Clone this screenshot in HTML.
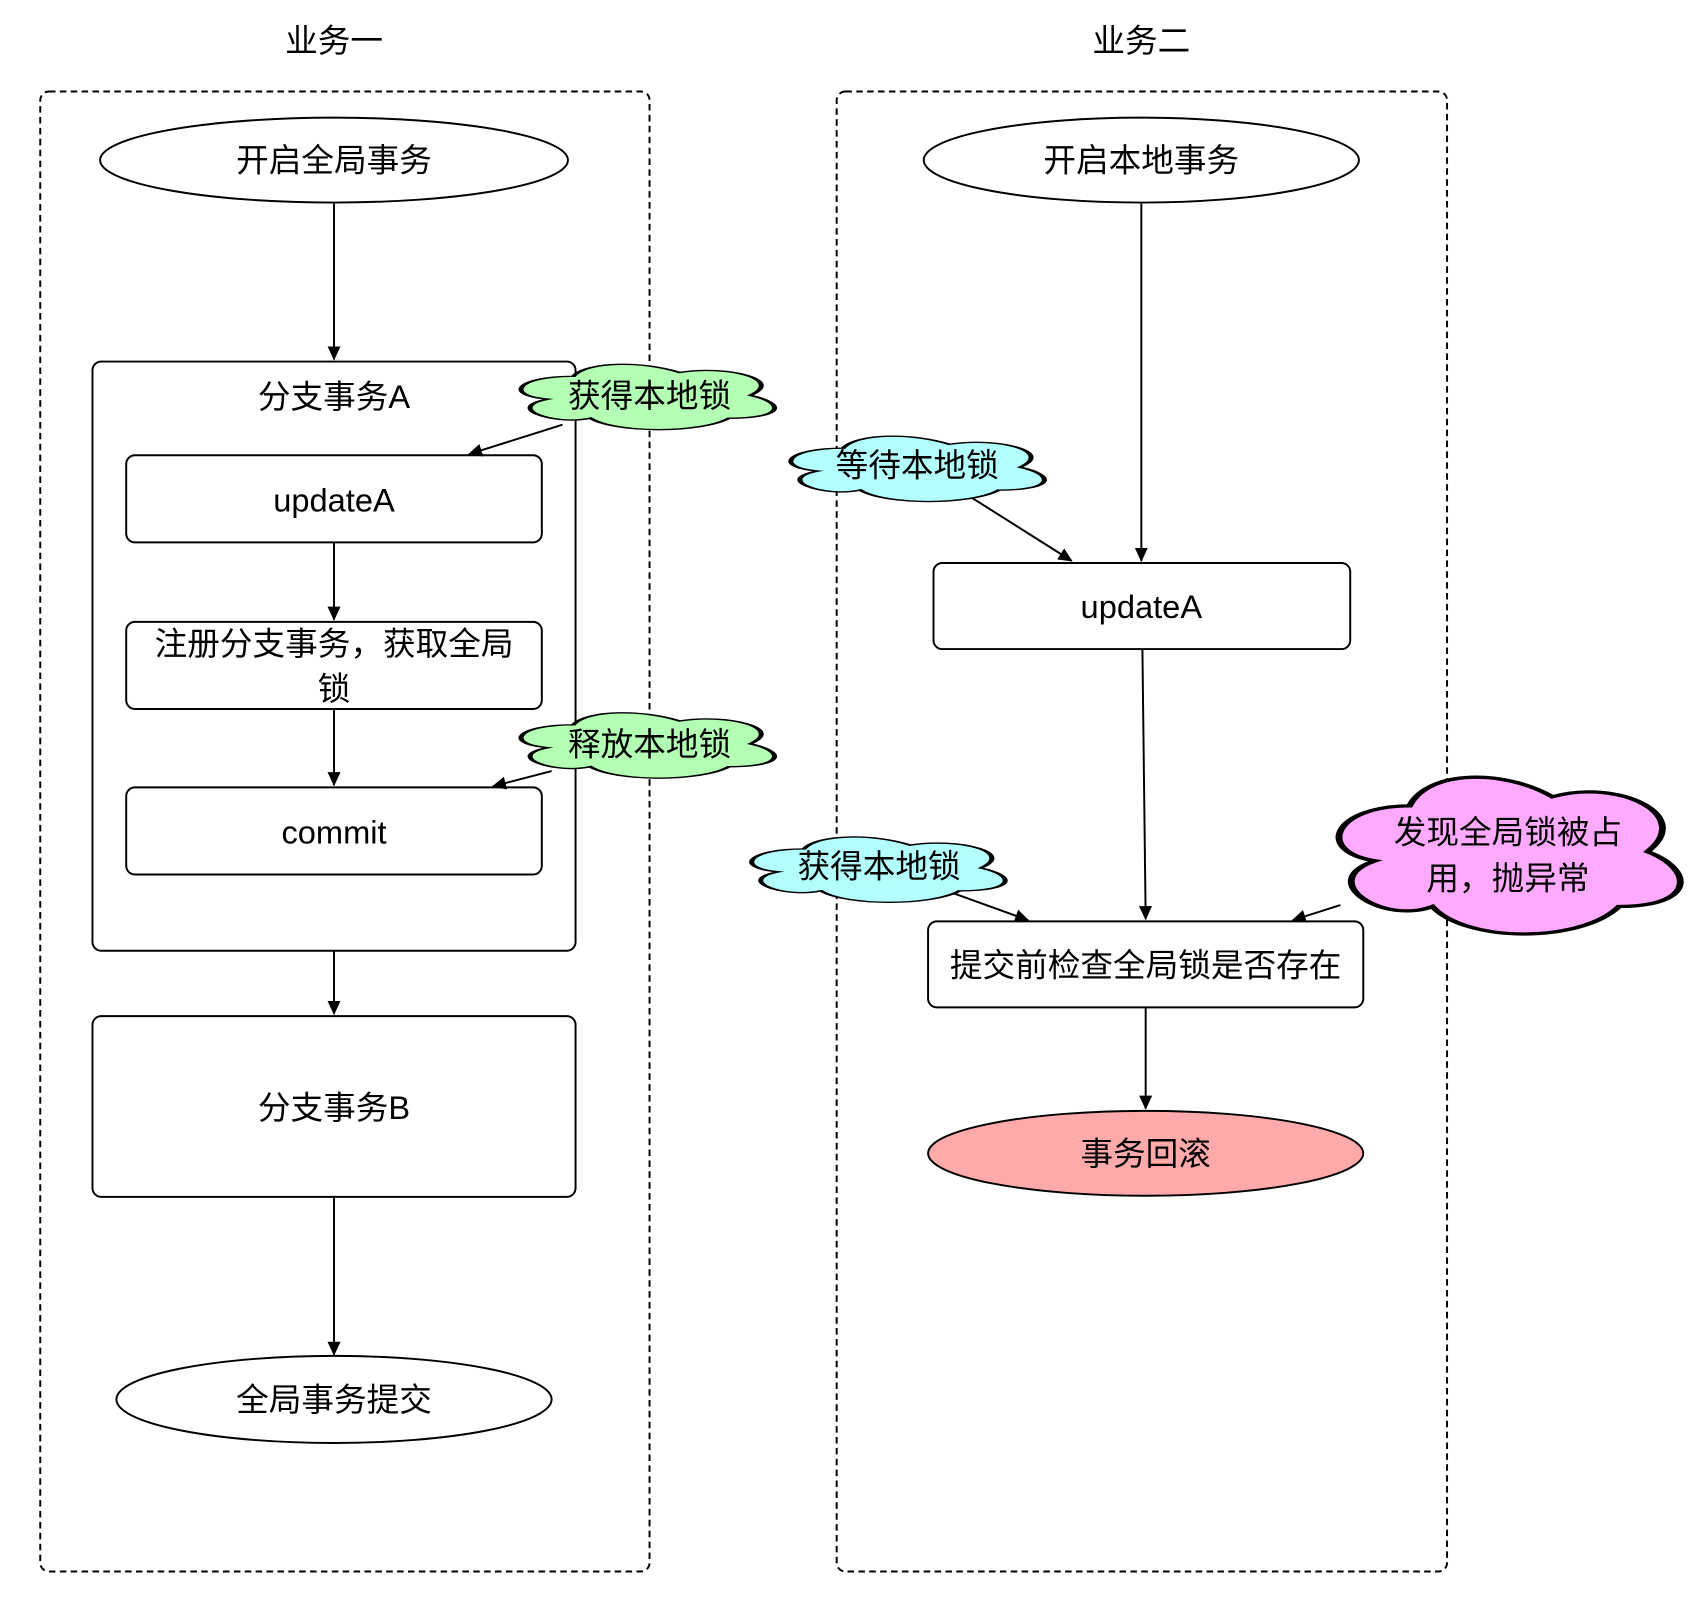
<!DOCTYPE html>
<html><head><meta charset="utf-8"><style>
html,body{margin:0;padding:0;background:#fff;}
svg{display:block}
text{font-family:"Liberation Sans","Noto Sans CJK SC",sans-serif;font-size:30px;fill:#000;text-anchor:middle;dominant-baseline:central}
</style></head><body>
<svg width="1706" height="1602" viewBox="0 0 1568 1471" preserveAspectRatio="none" xmlns="http://www.w3.org/2000/svg">
<defs>
<marker id="a" markerWidth="13" markerHeight="12" refX="12" refY="6" orient="auto" markerUnits="userSpaceOnUse" viewBox="0 0 13 12">
<path d="M0,0 L13,6 L0,12 Z" fill="#000"/></marker>
<path id="cl" d="M25,25 C5,25 0,50 16,55 C0,66 18,90 31,80 C40,100 70,100 80,80 C100,80 100,60 87.5,50 C100,30 80,10 62.5,20 C50,5 30,5 25,25 Z"/>
</defs>
<g fill="none" stroke="#000" stroke-width="1.8">
<rect x="37" y="84" width="560" height="1359" rx="8" stroke-dasharray="6,4"/>
<rect x="769" y="84" width="561" height="1359" rx="8" stroke-dasharray="6,4"/>
<ellipse cx="307" cy="147" rx="215" ry="39"/>
<rect x="85" y="332" width="444" height="541" rx="8"/>
<rect x="116" y="418" width="382" height="80" rx="8"/>
<rect x="116" y="571" width="382" height="80" rx="8"/>
<rect x="116" y="723" width="382" height="80" rx="8"/>
<rect x="85" y="933" width="444" height="166" rx="8"/>
<ellipse cx="307" cy="1285" rx="200" ry="40"/>
<ellipse cx="1049" cy="147" rx="200" ry="39"/>
<rect x="858" y="517" width="383" height="79" rx="8"/>
<rect x="853" y="846" width="400" height="79" rx="8"/>
<ellipse cx="1053" cy="1059" rx="200" ry="39" fill="#ffaaaa"/>
<line x1="307" y1="187" x2="307" y2="330" marker-end="url(#a)"/>
<line x1="307" y1="498" x2="307" y2="569" marker-end="url(#a)"/>
<line x1="307" y1="651" x2="307" y2="721" marker-end="url(#a)"/>
<line x1="307" y1="873" x2="307" y2="931" marker-end="url(#a)"/>
<line x1="307" y1="1099" x2="307" y2="1244" marker-end="url(#a)"/>
<line x1="1049" y1="187" x2="1049" y2="515" marker-end="url(#a)"/>
<line x1="1050" y1="596" x2="1053" y2="844" marker-end="url(#a)"/>
<line x1="1053" y1="925" x2="1053" y2="1018" marker-end="url(#a)"/>
<line x1="517" y1="390" x2="431" y2="417" marker-end="url(#a)"/>
<line x1="507" y1="708" x2="453" y2="722" marker-end="url(#a)"/>
<line x1="890" y1="455" x2="985" y2="515" marker-end="url(#a)"/>
<line x1="873" y1="819" x2="945" y2="845" marker-end="url(#a)"/>
<line x1="1232" y1="831" x2="1188" y2="845" marker-end="url(#a)"/>
</g>
<g stroke="#000" stroke-width="1.8">
<use href="#cl" transform="translate(462,328) scale(2.6,0.7)" fill="#b3ffb3" style="vector-effect:non-scaling-stroke"/>
<use href="#cl" transform="translate(462,648) scale(2.6,0.7)" fill="#b3ffb3" style="vector-effect:non-scaling-stroke"/>
<use href="#cl" transform="translate(710,394) scale(2.6,0.7)" fill="#b3ffff" style="vector-effect:non-scaling-stroke"/>
<use href="#cl" transform="translate(674,762) scale(2.6,0.7)" fill="#b3ffff" style="vector-effect:non-scaling-stroke"/>
<use href="#cl" transform="translate(1208,698) scale(3.5,1.68)" fill="#ffaaff" style="vector-effect:non-scaling-stroke"/>
</g>
<text x="307" y="37">业务一</text>
<text x="1049" y="37">业务二</text>
<text x="307" y="147">开启全局事务</text>
<text x="307" y="364">分支事务A</text>
<text x="307" y="459">updateA</text>
<text x="307" y="591">注册分支事务，获取全局</text>
<text x="307" y="632">锁</text>
<text x="307" y="764">commit</text>
<text x="307" y="1017">分支事务B</text>
<text x="307" y="1285">全局事务提交</text>
<text x="597" y="363">获得本地锁</text>
<text x="597" y="683">释放本地锁</text>
<text x="1049" y="147">开启本地事务</text>
<text x="843" y="427">等待本地锁</text>
<text x="1049" y="557">updateA</text>
<text x="808" y="795">获得本地锁</text>
<text x="1386" y="764">发现全局锁被占</text>
<text x="1386" y="806">用，抛异常</text>
<text x="1053" y="886">提交前检查全局锁是否存在</text>
<text x="1053" y="1059">事务回滚</text>
</svg>
</body></html>
